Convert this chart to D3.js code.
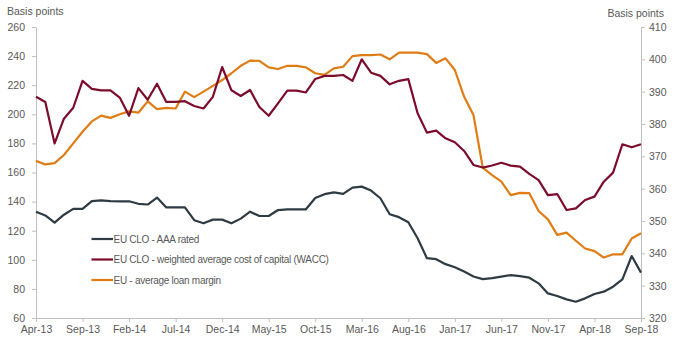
<!DOCTYPE html>
<html>
<head>
<meta charset="utf-8">
<script src="https://cdn.jsdelivr.net/npm/d3@7"></script>
<style>
  html, body { margin: 0; padding: 0; background: #ffffff; }
  svg { display: block; font-family: "Liberation Sans", Arial, sans-serif; }
</style>
</head>
<body>
<svg id="chart" width="680" height="345"></svg>
<script>
const months = [
  "Apr-13","May-13","Jun-13","Jul-13","Aug-13","Sep-13","Oct-13","Nov-13","Dec-13",
  "Jan-14","Feb-14","Mar-14","Apr-14","May-14","Jun-14","Jul-14","Aug-14","Sep-14","Oct-14","Nov-14","Dec-14",
  "Jan-15","Feb-15","Mar-15","Apr-15","May-15","Jun-15","Jul-15","Aug-15","Sep-15","Oct-15","Nov-15","Dec-15",
  "Jan-16","Feb-16","Mar-16","Apr-16","May-16","Jun-16","Jul-16","Aug-16","Sep-16","Oct-16","Nov-16","Dec-16",
  "Jan-17","Feb-17","Mar-17","Apr-17","May-17","Jun-17","Jul-17","Aug-17","Sep-17","Oct-17","Nov-17","Dec-17",
  "Jan-18","Feb-18","Mar-18","Apr-18","May-18","Jun-18","Jul-18","Aug-18","Sep-18"
];
const tickLabels = ["Apr-13","Sep-13","Feb-14","Jul-14","Dec-14","May-15","Oct-15","Mar-16","Aug-16","Jan-17","Jun-17","Nov-17","Apr-18","Sep-18"];
const leftTicks = [60,80,100,120,140,160,180,200,220,240,260];
const rightTicks = [320,330,340,350,360,370,380,390,400,410];

// EU CLO - AAA rated (left axis, bp)
const aaa = [133,130.5,125.5,131,135,135,140.3,140.8,140.3,140.2,140.2,138.5,138,142.8,136,136,136,127.2,125.1,127.6,127.6,125.1,128.3,133.1,130.1,130.1,134.2,134.7,134.7,134.7,142.5,145.1,146.3,
  145.3,149.6,150.3,147.6,142.3,131.3,129.3,125.8,114.8,101.1,100.4,97,94.9,91.9,88.5,86.7,87.4,88.4,89.5,88.8,87.7,83.8,76.9,75.1,72.8,71.2,73.5,76.5,78.1,81.5,86.6,102.6,91.2];
// EU CLO - WACC (left axis, bp)
const wacc = [212,208.5,180,197,204.5,223,217.5,216.5,216.5,211.5,199,218,210,221,208.5,208.5,209,205.7,204,212,232.5,216.5,212.6,216.7,205,199,207.5,216.3,216.3,215,224.3,226.4,226.4,
  227,223,237.8,228.6,226.4,220.6,223,224.2,200.7,187.4,188.8,183.5,180.8,174.8,165.2,163.4,164.8,166.7,164.7,164,159,154.8,144.5,145.2,134.2,135.3,141.1,143.4,153.7,159.9,179.4,177.3,179.4];
// EU - average loan margin (right axis, bp)
const loanMargin = [368.6,367.5,367.9,370.4,374,377.6,380.8,382.6,381.9,383,383.9,383.5,387,384.6,385,384.8,390,388.3,390,391.8,393.6,395.7,398,399.6,399.5,397.5,397,398,398,397.5,395.7,395.2,397.2,
  397.7,401,401.3,401.3,401.5,400,402.1,402.1,402.1,401.6,398.9,400.3,396.7,388.4,382.8,366.5,364.2,362.2,358,358.7,358.6,353.1,350.5,345.7,346.4,343.9,341.5,340.7,338.7,339.7,339.7,344.6,346.2];

const seriesNames = ["EU CLO - AAA rated","EU CLO - weighted average cost of capital (WACC)","EU - average loan margin"];
const seriesColors = ["#2f3b43","#7d0c2c","#e07c14"];

const svg = d3.select("#chart");
const mLeft = 36, mRight = 641, mTop = 27, mBottom = 318;
const x = d3.scalePoint().domain(months).range([mLeft, mRight]);
const yL = d3.scaleLinear().domain([60, 260]).range([mBottom, mTop]);
const yR = d3.scaleLinear().domain([320, 410]).range([mBottom, mTop]);

const axisColor = "#bfbfbf", textColor = "#595959", fs = "10.5px";

function styleAxis(g) {
  g.selectAll("path").attr("stroke", axisColor);
  g.selectAll("line").attr("stroke", axisColor);
  g.selectAll("text").attr("fill", textColor).style("font-size", fs).style("font-family", '"Liberation Sans", Arial, sans-serif');
}

svg.append("g").attr("transform", `translate(0,${mBottom})`)
  .call(d3.axisBottom(x).tickValues(tickLabels).tickSize(4).tickSizeOuter(0).tickPadding(4))
  .call(styleAxis);
svg.append("g").attr("transform", `translate(${mLeft},0)`)
  .call(d3.axisLeft(yL).tickValues(leftTicks).tickSize(4).tickSizeOuter(0).tickPadding(7))
  .call(styleAxis);
svg.append("g").attr("transform", `translate(${mRight},0)`)
  .call(d3.axisRight(yR).tickValues(rightTicks).tickSize(4).tickSizeOuter(0).tickPadding(4))
  .call(styleAxis);

svg.append("text").attr("x", 7).attr("y", 14.5).attr("fill", textColor).style("font-size", fs).text("Basis points");
svg.append("text").attr("x", 664).attr("y", 16.5).attr("text-anchor", "end").attr("fill", textColor).style("font-size", fs).text("Basis points");

const lineL = d3.line().x((d, i) => x(months[i])).y(d => yL(d));
const lineR = d3.line().x((d, i) => x(months[i])).y(d => yR(d));

svg.append("path").datum(aaa).attr("d", lineL).attr("fill", "none").attr("stroke", seriesColors[0]).attr("stroke-width", 2.2).attr("stroke-linejoin", "round");
svg.append("path").datum(loanMargin).attr("d", lineR).attr("fill", "none").attr("stroke", seriesColors[2]).attr("stroke-width", 2.2).attr("stroke-linejoin", "round");
svg.append("path").datum(wacc).attr("d", lineL).attr("fill", "none").attr("stroke", seriesColors[1]).attr("stroke-width", 2.2).attr("stroke-linejoin", "round");

const legendY = [239, 259.5, 280];
const lg = svg.append("g");
seriesNames.forEach((name, i) => {
  lg.append("line").attr("x1", 91.5).attr("x2", 113).attr("y1", legendY[i]).attr("y2", legendY[i])
    .attr("stroke", seriesColors[i]).attr("stroke-width", 2.2);
  lg.append("text").attr("x", 113.5).attr("y", legendY[i] + 3.6).attr("fill", textColor)
    .style("font-size", "10px").style("letter-spacing", "-0.28px").text(name);
});
</script>
</body>
</html>
